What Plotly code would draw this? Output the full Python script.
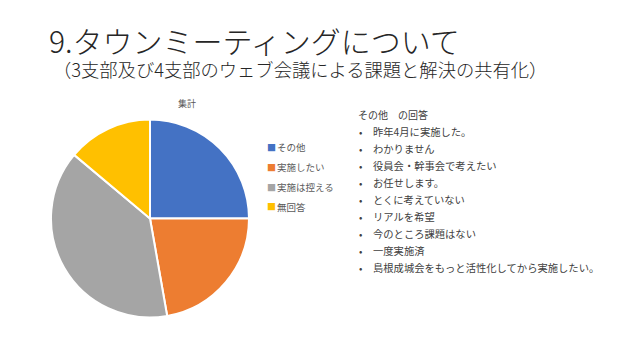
import plotly.graph_objects as go

labels = ["その他", "実施したい", "実施は控える", "無回答"]
values = [9, 8, 14, 5]
colors = ["#4472C4", "#ED7D31", "#A5A5A5", "#FFC000"]

title = "9.タウンミーティングについて"
subtitle = "（3支部及び4支部のウェブ会議による課題と解決の共有化）"
chart_title = "集計"
notes_header = "その他　の回答"
notes = [
    "昨年4月に実施した。",
    "わかりません",
    "役員会・幹事会で考えたい",
    "お任せします。",
    "とくに考えていない",
    "リアルを希望",
    "今のところ課題はない",
    "一度実施済",
    "島根成城会をもっと活性化してから実施したい。",
]

W, H = 640, 360
FONT = "Noto Sans CJK JP"
LIGHT = "Noto Sans CJK JP Light, Noto Sans CJK JP DemiLight, Noto Sans CJK JP"

fig = go.Figure(go.Pie(
    labels=labels, values=values, sort=False, direction="clockwise", rotation=0,
    marker=dict(colors=colors, line=dict(color="white", width=2)),
    textinfo="none", hoverinfo="label+value", showlegend=False,
    domain=dict(x=[(150 - 99) / W, (150 + 99) / W], y=[(141.5 - 99) / H, (141.5 + 99) / H]),
))

ann = []
ann.append(dict(text=title, x=47 / W, y=1 - 40 / H, xref="paper", yref="paper", xanchor="left",
                yanchor="middle", showarrow=False, height=34,
                font=dict(family=LIGHT, size=30, color="#262626", weight=300)))
ann.append(dict(text=subtitle, x=51 / W, y=1 - 68.5 / H, xref="paper", yref="paper", xanchor="left",
                yanchor="middle", showarrow=False, height=22,
                font=dict(family=LIGHT, size=18.3, color="#262626", weight=300)))
ann.append(dict(text=chart_title, x=187 / W, y=1 - 103 / H, xref="paper", yref="paper", xanchor="center",
                yanchor="middle", showarrow=False, font=dict(family=FONT, size=9, color="#595959")))

# legend entries built from labels/colors
for i, (lab, col) in enumerate(zip(labels, colors)):
    y = 147 + i * 20
    ann.append(dict(text="■", x=265 / W, y=1 - y / H, xref="paper", yref="paper", xanchor="left",
                    yanchor="middle", showarrow=False, font=dict(family=FONT, size=9, color=col)))
    ann.append(dict(text=lab, x=275 / W, y=1 - y / H, xref="paper", yref="paper", xanchor="left",
                    yanchor="middle", showarrow=False, font=dict(family=FONT, size=9.5, color="#595959")))

ann.append(dict(text=notes_header, x=356 / W, y=1 - 114 / H, xref="paper", yref="paper", xanchor="left",
                yanchor="middle", showarrow=False, font=dict(family=FONT, size=10, color="#404040")))
for i, n in enumerate(notes):
    y = 131 + i * 17.1
    ann.append(dict(text="•", x=357 / W, y=1 - y / H, xref="paper", yref="paper", xanchor="left",
                    yanchor="middle", showarrow=False, font=dict(family=FONT, size=10, color="#404040")))
    ann.append(dict(text=n, x=371 / W, y=1 - y / H, xref="paper", yref="paper", xanchor="left",
                    yanchor="middle", showarrow=False, font=dict(family=FONT, size=10.3, color="#404040")))

fig.update_layout(
    width=W, height=H, margin=dict(l=0, r=0, t=0, b=0),
    paper_bgcolor="white", plot_bgcolor="white",
    showlegend=False,
    annotations=ann,
)

fig.write_html("out.html")
